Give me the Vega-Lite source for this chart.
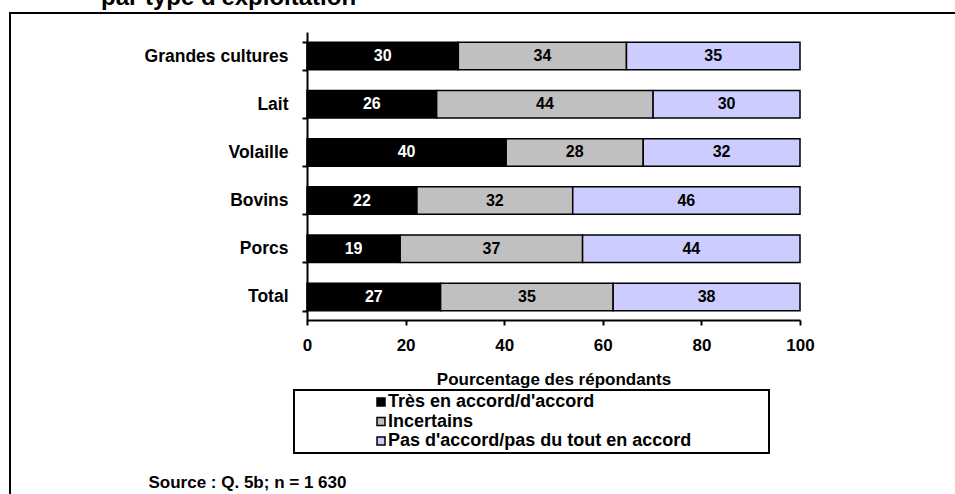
{
  "$schema": "https://vega.github.io/schema/vega-lite/v6.json",
  "autosize": "none",
  "width": 965,
  "height": 501,
  "padding": {"left": 10, "top": 13, "right": -20, "bottom": -20},
  "background": "white",
  "title": {
    "text": "par type d'exploitation",
    "anchor": "start",
    "frame": "group",
    "dx": 91,
    "offset": -25,
    "baseline": "alphabetic",
    "font": "Liberation Sans",
    "fontSize": 24,
    "fontWeight": "bold",
    "color": "black"
  },
  "config": {
    "font": "Liberation Sans",
    "view": {"stroke": "black", "strokeWidth": 2},
    "axis": {
      "domainColor": "black",
      "domainWidth": 2,
      "tickColor": "black",
      "tickWidth": 2,
      "tickSize": 5,
      "grid": false,
      "labelFlush": false,
      "labelFont": "Liberation Sans",
      "labelFontSize": 17,
      "labelFontWeight": "bold",
      "labelColor": "black",
      "titleFont": "Liberation Sans",
      "titleFontSize": 17,
      "titleFontWeight": "bold",
      "titleColor": "black"
    }
  },
  "data": {
    "values": [
      {"type": "Grandes cultures", "resp": "Très en accord/d'accord", "ord": 1, "pct": 30.7, "label": "30"},
      {"type": "Grandes cultures", "resp": "Incertains", "ord": 2, "pct": 34.1, "label": "34"},
      {"type": "Grandes cultures", "resp": "Pas d'accord/pas du tout en accord", "ord": 3, "pct": 35.2, "label": "35"},
      {"type": "Lait", "resp": "Très en accord/d'accord", "ord": 1, "pct": 26.3, "label": "26"},
      {"type": "Lait", "resp": "Incertains", "ord": 2, "pct": 43.9, "label": "44"},
      {"type": "Lait", "resp": "Pas d'accord/pas du tout en accord", "ord": 3, "pct": 29.8, "label": "30"},
      {"type": "Volaille", "resp": "Très en accord/d'accord", "ord": 1, "pct": 40.4, "label": "40"},
      {"type": "Volaille", "resp": "Incertains", "ord": 2, "pct": 27.8, "label": "28"},
      {"type": "Volaille", "resp": "Pas d'accord/pas du tout en accord", "ord": 3, "pct": 31.8, "label": "32"},
      {"type": "Bovins", "resp": "Très en accord/d'accord", "ord": 1, "pct": 22.3, "label": "22"},
      {"type": "Bovins", "resp": "Incertains", "ord": 2, "pct": 31.6, "label": "32"},
      {"type": "Bovins", "resp": "Pas d'accord/pas du tout en accord", "ord": 3, "pct": 46.1, "label": "46"},
      {"type": "Porcs", "resp": "Très en accord/d'accord", "ord": 1, "pct": 18.9, "label": "19"},
      {"type": "Porcs", "resp": "Incertains", "ord": 2, "pct": 37.0, "label": "37"},
      {"type": "Porcs", "resp": "Pas d'accord/pas du tout en accord", "ord": 3, "pct": 44.1, "label": "44"},
      {"type": "Total", "resp": "Très en accord/d'accord", "ord": 1, "pct": 27.1, "label": "27"},
      {"type": "Total", "resp": "Incertains", "ord": 2, "pct": 35.0, "label": "35"},
      {"type": "Total", "resp": "Pas d'accord/pas du tout en accord", "ord": 3, "pct": 37.9, "label": "38"}
    ]
  },
  "transform": [
    {"stack": "pct", "groupby": ["type"], "sort": [{"field": "ord", "order": "ascending"}], "as": ["x0", "x1"]},
    {"calculate": "(datum.x0 + datum.x1) / 2", "as": "xm"}
  ],
  "encoding": {
    "y": {
      "field": "type",
      "type": "nominal",
      "sort": ["Grandes cultures", "Lait", "Volaille", "Bovins", "Porcs", "Total"],
      "scale": {"range": [19, 308], "paddingInner": 0.43, "paddingOuter": 0.215},
      "axis": {
        "offset": -297,
        "tickBand": "extent",
        "labelPadding": 14,
        "labelFontSize": 17.5,
        "title": "Source : Q. 5b; n = 1 630",
        "titleAngle": 0,
        "titleAlign": "left",
        "titleBaseline": "alphabetic",
        "titleX": -159,
        "titleY": 474
      }
    }
  },
  "layer": [
    {
      "mark": {"type": "bar", "stroke": "black", "strokeWidth": 1.5},
      "encoding": {
        "x": {
          "field": "x0",
          "type": "quantitative",
          "scale": {"domain": [0, 100], "range": [297, 790], "nice": false, "zero": true},
          "axis": {
            "offset": -194,
            "values": [0, 20, 40, 60, 80, 100],
            "labelPadding": 12,
            "title": "Pourcentage des répondants",
            "titlePadding": 18
          }
        },
        "x2": {"field": "x1"},
        "color": {
          "field": "resp",
          "type": "nominal",
          "scale": {
            "domain": ["Très en accord/d'accord", "Incertains", "Pas d'accord/pas du tout en accord"],
            "range": ["#000000", "#C0C0C0", "#CCCCFF"]
          },
          "legend": {
            "title": "\u00a0",
            "titleOrient": "right",
            "titlePadding": 75,
            "titleFontSize": 18,
            "orient": "none",
            "legendX": 284,
            "legendY": 377,
            "strokeColor": "black",
            "padding": 3,
            "symbolType": "square",
            "symbolSize": 64,
            "symbolStrokeColor": "black",
            "symbolStrokeWidth": 1.5,
            "symbolOffset": 75,
            "labelFont": "Liberation Sans",
            "labelFontSize": 18,
            "labelFontWeight": "bold",
            "labelColor": "black",
            "labelLimit": 700,
            "labelOffset": -2,
            "rowPadding": 1.5,
            "encode": {"legend": {"update": {"strokeWidth": {"value": 2}}}}
          }
        }
      }
    },
    {
      "mark": {"type": "text", "font": "Liberation Sans", "fontSize": 16, "fontWeight": "bold", "baseline": "middle", "align": "center"},
      "encoding": {
        "x": {
          "field": "xm",
          "type": "quantitative",
          "axis": {
            "offset": -194,
            "values": [0, 20, 40, 60, 80, 100],
            "labelPadding": 12,
            "title": "Pourcentage des répondants",
            "titlePadding": 18
          }
        },
        "text": {"field": "label", "type": "nominal"},
        "color": {"condition": {"test": "datum.ord == 1", "value": "white"}, "value": "black"}
      }
    }
  ]
}
